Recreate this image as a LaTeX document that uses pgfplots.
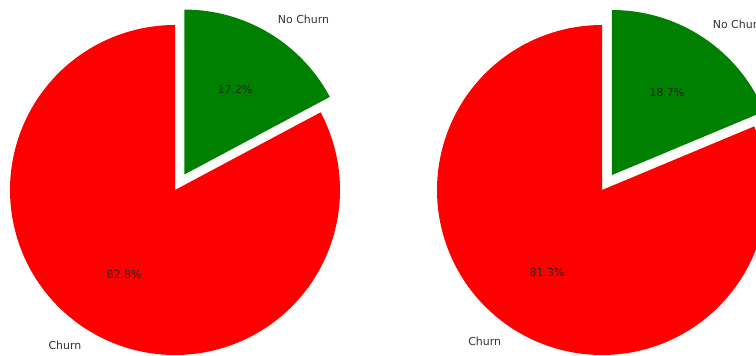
\documentclass[border=0pt]{standalone}
\usepackage{fontspec}
\setmainfont{DejaVu Sans}
\usepackage{pgfplots}
\pgfplotsset{compat=1.18}
\definecolor{mplred}{HTML}{FF0000}
\definecolor{mplgreen}{HTML}{008000}
\tikzset{
  pct/.style={font={\fontsize{11}{13}\selectfont}, text=black!85, anchor=center, inner sep=0pt},
  lbl/.style={font={\fontsize{11}{13}\selectfont}, text=black!80, inner sep=0pt},
}
% #1,#2 centre (px, y up), #3 churn percent, #4 no-churn percent
\newcommand{\drawpie}[4]{%
  \pgfmathsetmacro\angA{90+3.6*#3}%
  \pgfmathsetmacro\midR{90+1.8*#3}%
  \pgfmathsetmacro\midG{\angA+1.8*#4}%
  \pgfmathsetmacro\gx{#1+18*cos(\midG)}%
  \pgfmathsetmacro\gy{#2+18*sin(\midG)}%
  \pgfmathsetmacro\pRx{#1+99*cos(\midR)}%
  \pgfmathsetmacro\pRy{#2+99*sin(\midR)}%
  \pgfmathsetmacro\pGx{\gx+99*cos(\midG)}%
  \pgfmathsetmacro\pGy{\gy+99*sin(\midG)}%
  \pgfmathsetmacro\lRx{#1+181.5*cos(\midR)}%
  \pgfmathsetmacro\lRy{#2+181.5*sin(\midR)}%
  \pgfmathsetmacro\lGx{\gx+181.5*cos(\midG)}%
  \pgfmathsetmacro\lGy{\gy+181.5*sin(\midG)}%
  \edef\piecmd{%
    \noexpand\addplot[fill=mplred, draw=none, domain=90:\angA, samples=200]
      ({#1+165*cos(x)},{#2+165*sin(x)}) -- (axis cs:#1,#2) -- cycle;
    \noexpand\addplot[fill=mplgreen, draw=none, domain=\angA:450, samples=80]
      ({\gx+165*cos(x)},{\gy+165*sin(x)}) -- (axis cs:\gx,\gy) -- cycle;
    \noexpand\node[pct] at (axis cs:\pRx,\pRy) {#3\noexpand\%};
    \noexpand\node[pct] at (axis cs:\pGx,\pGy) {#4\noexpand\%};
    \noexpand\node[lbl, anchor=east] at (axis cs:\lRx,\lRy) {Churn};
    \noexpand\node[lbl, anchor=west] at (axis cs:\lGx,\lGy) {No Churn};
  }%
  \piecmd
}
\begin{document}
\begin{tikzpicture}
\useasboundingbox (0,0) rectangle (756pt,356pt);
\clip (0,0) rectangle (756pt,356pt);
\begin{axis}[
  at={(0,0)}, anchor=south west,
  width=756pt, height=356pt, scale only axis,
  xmin=0, xmax=756, ymin=0, ymax=356,
  hide axis, clip=true,
]
\drawpie{175}{166}{82.8}{17.2}
\drawpie{602}{166}{81.3}{18.7}
\end{axis}
\end{tikzpicture}
\end{document}
